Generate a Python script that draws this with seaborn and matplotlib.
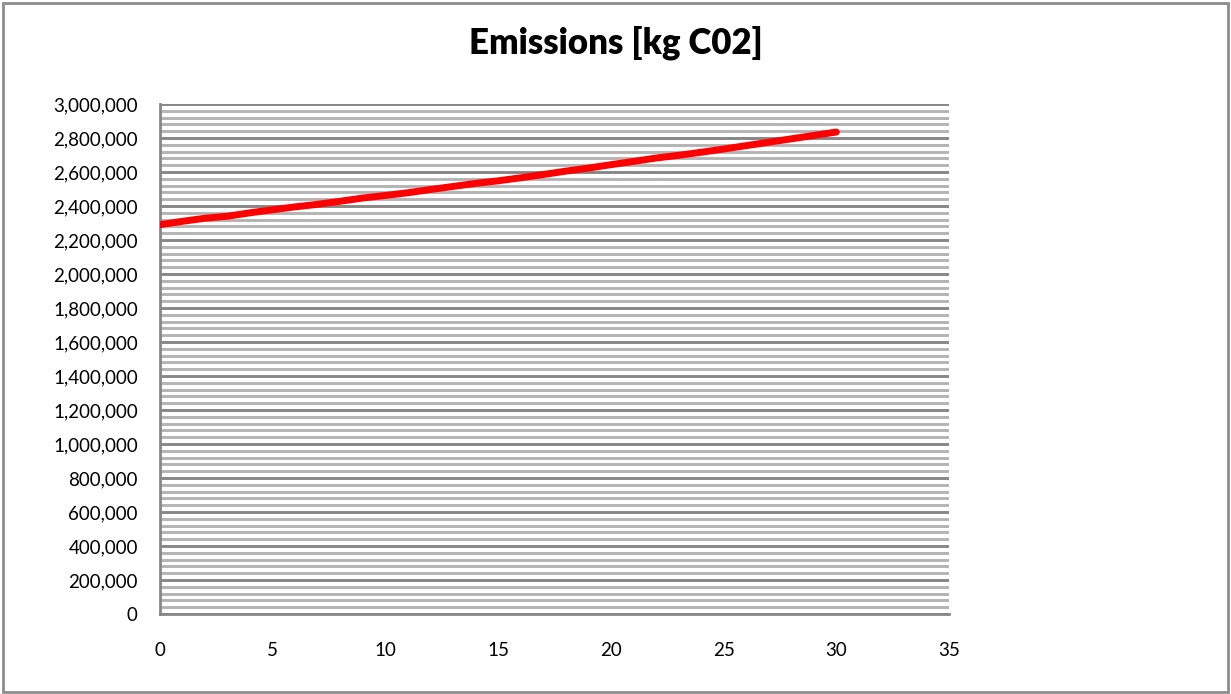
import matplotlib
matplotlib.use("Agg")
import matplotlib.pyplot as plt
from matplotlib.patches import Rectangle
from matplotlib.ticker import MultipleLocator, FuncFormatter
import seaborn as sns
import pandas as pd

# Annual CO2 emissions over the 30-year period
years = list(range(0, 31))
emissions = [
    2290000, 2310000, 2328000, 2340000, 2360000, 2378000, 2395000, 2410000,
    2428000, 2447000, 2462000, 2478000, 2497000, 2515000, 2533000, 2548000,
    2566000, 2585000, 2605000, 2623000, 2643000, 2662000, 2682000, 2698000,
    2716000, 2735000, 2755000, 2775000, 2795000, 2815000, 2835000,
]
title = "Emissions [kg C02]"

df = pd.DataFrame({"year": years, "emissions": emissions})

sns.set_style("white")
plt.rcParams["font.family"] = ["Lato", "DejaVu Sans"]

fig = plt.figure(figsize=(12.31, 6.94), dpi=100)
ax = fig.add_axes([160 / 1231, 80 / 694, 789 / 1231, 510 / 694])

major_c = "#878787"
minor_c = "#b4b4b4"

sns.lineplot(data=df, x="year", y="emissions", ax=ax, color="#ff0000",
             linewidth=5, solid_capstyle="round", zorder=5)

ax.set_xlim(0, 35)
ax.set_ylim(0, 3000000)
ax.xaxis.set_major_locator(MultipleLocator(5))
ax.yaxis.set_major_locator(MultipleLocator(200000))
ax.yaxis.set_minor_locator(MultipleLocator(40000))
ax.yaxis.set_major_formatter(FuncFormatter(lambda v, p: f"{int(v):,}"))

ax.grid(False)
ax.grid(True, axis="y", which="minor", color=minor_c, linewidth=2.1, zorder=1)
ax.grid(True, axis="y", which="major", color=major_c, linewidth=2.1, zorder=2)
ax.set_axisbelow(True)

for side in ("top", "right"):
    ax.spines[side].set_visible(False)
for side in ("left", "bottom"):
    ax.spines[side].set_color(major_c)
    ax.spines[side].set_linewidth(2.0)
    ax.spines[side].set_zorder(3)

ax.tick_params(axis="both", which="major", direction="out", length=5,
               width=2.0, color=major_c, labelsize=13.5, labelcolor="black")
ax.tick_params(axis="y", which="major", pad=11)
ax.tick_params(axis="x", which="major", pad=15)
ax.tick_params(axis="y", which="minor", length=0)
ax.set_xlabel("")
ax.set_ylabel("")

fig.text(0.5, 1 - 43 / 694, title, ha="center", va="center",
         fontsize=25, fontweight="heavy", color="black")

# chart frame
fig.patches.append(Rectangle((3 / 1231, 2 / 694), 1225 / 1231, 689 / 694,
                             transform=fig.transFigure, fill=False,
                             edgecolor="#8c8c8c", linewidth=2.0))

fig.savefig("out.png", dpi=100)
